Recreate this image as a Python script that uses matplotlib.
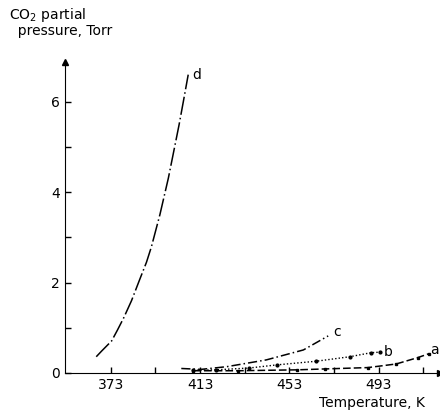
import matplotlib
matplotlib.use("Agg")
import matplotlib.pyplot as plt

# curve data (temperature K, CO2 partial pressure Torr)
t_d = [366.5, 369.0, 373.4, 376.0, 378.8, 382.3, 385.9, 389.0, 391.2, 395.0, 398.8, 401.0, 403.6, 405.5, 407.7]
p_d = [0.36, 0.49, 0.71, 0.95, 1.22, 1.60, 2.06, 2.45, 2.79, 3.50, 4.31, 4.85, 5.49, 6.00, 6.60]

t_c = [404.6, 413.4, 425.0, 442.7, 459.3, 470.4]
p_c = [0.10, 0.08, 0.14, 0.29, 0.51, 0.82]

t_b = [410.0, 420.0, 435.0, 447.5, 465.0, 480.1, 489.7, 493.4]
p_b = [0.06, 0.07, 0.11, 0.18, 0.26, 0.36, 0.45, 0.46]

t_a = [410.0, 430.0, 456.4, 469.0, 488.3, 500.9, 510.5, 515.7]
p_a = [0.05, 0.05, 0.07, 0.09, 0.12, 0.20, 0.34, 0.43]

x_ticks = [373, 413, 453, 493]
x_minor = [393, 433, 473, 513]
y_ticks = [0, 2, 4, 6]
y_minor = [1, 3, 5]

fig = plt.figure(figsize=(4.4, 4.12), dpi=100)
ax = fig.add_axes([65 / 440, 39 / 412, 375 / 440, 311 / 412])

ax.plot(t_d, p_d, color='black', lw=1.1, linestyle=(0, (12, 2, 1, 2)))
ax.plot(t_c, p_c, color='black', lw=1.1, linestyle=(0, (6, 2, 1, 2)))
ax.plot(t_b, p_b, color='black', lw=1.0, linestyle=(0, (1, 1.5)), marker='o', markersize=2)
ax.plot(t_a, p_a, color='black', lw=1.1, linestyle=(0, (5, 2)), marker='s', markersize=2)

ax.text(409.5, 6.6, 'd', fontsize=10, va='center')
ax.text(472.5, 0.91, 'c', fontsize=10, va='center')
ax.text(495.5, 0.46, 'b', fontsize=10, va='center')
ax.text(516.3, 0.5, 'a', fontsize=10, va='center')

ax.set_xlim(352.5, 520.5)
ax.set_ylim(0, 6.88)
ax.spines['top'].set_visible(False)
ax.spines['right'].set_visible(False)
ax.set_xticks(x_ticks)
ax.set_xticks(x_minor, minor=True)
ax.set_yticks(y_ticks)
ax.set_yticks(y_minor, minor=True)
ax.tick_params(which='both', direction='in', length=4, width=1, labelsize=10)

# arrow heads at axis ends
ax.plot(1, 0, '>k', markersize=5, transform=ax.transAxes, clip_on=False)
ax.plot(0, 1, '^k', markersize=5, transform=ax.transAxes, clip_on=False)

fig.text(0.02, 0.985, 'CO$_2$ partial\n  pressure, Torr', fontsize=10, va='top', ha='left',
         linespacing=1.0)
fig.text(0.965, 0.005, 'Temperature, K', fontsize=10, va='bottom', ha='right')

fig.savefig('out.png', dpi=100)
